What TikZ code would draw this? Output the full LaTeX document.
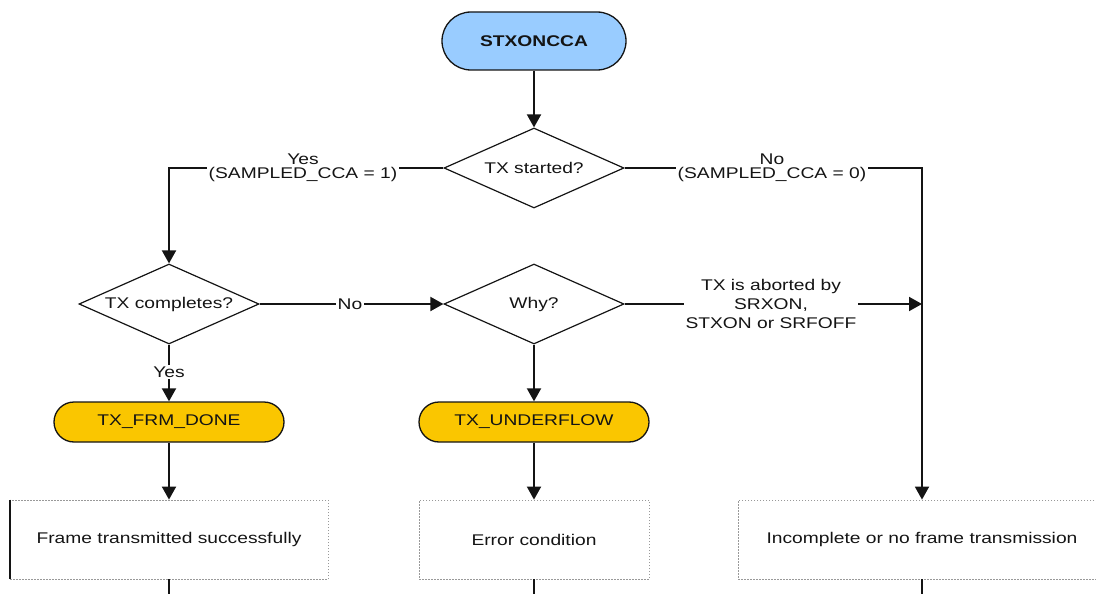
\documentclass[tikz,border=0pt]{standalone}
\usepackage{fontspec}
\setmainfont{Liberation Sans}[FakeStretch=1.24]
\usetikzlibrary{shapes.geometric,arrows.meta}
\definecolor{pillblue}{RGB}{153,204,255}
\definecolor{pillgold}{RGB}{250,198,0}
\definecolor{ink}{RGB}{20,20,20}
\begin{document}
\begin{tikzpicture}[x=1pt,y=-1pt,
  font=\fontsize{15.5}{18}\selectfont,
  pill/.style={draw=ink,line width=1.3pt,rounded corners=20pt,
    minimum width=230pt,minimum height=40pt,inner sep=0pt,text=ink},
  decision/.style={draw=ink,line width=1.2pt,shape=diamond,aspect=2.25,
    minimum width=180pt,minimum height=80pt,inner sep=0pt,text=ink},
  outcome/.style={draw=gray!80,line width=0.8pt,dash pattern=on 1.5pt off 1.5pt,
    minimum height=79pt,inner sep=0pt,text=ink},
  conn/.style={draw=ink,line width=1.9pt,-{Triangle[width=14pt,length=13pt]}},
  plain/.style={draw=ink,line width=1.9pt},
  lbl/.style={fill=white,inner sep=1.5pt,align=center,text=ink},
]
\useasboundingbox (0,0) rectangle (1096,594);

% start state
\node[pill,fill=pillblue,rounded corners=29pt,minimum width=184pt,minimum height=58pt,
  font=\fontsize{15.5}{18}\selectfont\bfseries] (start) at (534,41) {STXONCCA};

% decisions
\node[decision] (ts)  at (534,168) {TX started?};
\node[decision] (tc)  at (169,304) {TX completes?};
\node[decision] (why) at (534,304) {Why?};

% interrupt flags
\node[pill,fill=pillgold] (done)  at (169,422) {TX\_FRM\_DONE};
\node[pill,fill=pillgold] (under) at (534,422) {TX\_UNDERFLOW};

% outcomes
\node[outcome,minimum width=318pt] (box1) at (169,539.5) {Frame transmitted successfully};
\node[outcome,minimum width=230pt] (box2) at (534,539.5) {Error condition};
\node[outcome,minimum width=368pt] (box3) at (922,539.5) {Incomplete or no frame transmission};

% junction on the right-hand path and continuation ends
\coordinate (jn) at (922,304);
\coordinate (x1) at (169,594);
\coordinate (x2) at (534,594);
\coordinate (x3) at (922,594);

% connectors
\draw[conn] (start) -- (ts);
\draw[conn] (ts.west) -| (tc.north);
\draw[conn] (ts.east) -| (box3.north);
\draw[conn] (tc.east) -- (why.west);
\draw[conn] (why.east) -- (jn);
\draw[conn] (tc.south) -- (done.north);
\draw[conn] (why.south) -- (under.north);
\draw[conn] (done) -- (box1);
\draw[conn] (under) -- (box2);
\draw[plain] (box1.south) -- (x1);
\draw[plain] (box2.south) -- (x2);
\draw[plain] (box3.south) -- (x3);
\draw[ink,line width=1.8pt] (box1.north west) -- (box1.south west);

% connector labels
\node[lbl,font=\fontsize{15.5}{14}\selectfont] (lyes) at (303,168) {Yes\\(SAMPLED\_CCA = 1)};
\node[lbl,font=\fontsize{15.5}{14}\selectfont] (lno)  at (772,168) {No\\(SAMPLED\_CCA = 0)};
\node[lbl] (lno2)  at (350,304) {No};
\node[lbl] (lyes2) at (169,372) {Yes};
\node[lbl,font=\fontsize{15.5}{19}\selectfont] (labort) at (771,304)
  {TX is aborted by\\SRXON,\\STXON or SRFOFF};
\end{tikzpicture}
\end{document}
